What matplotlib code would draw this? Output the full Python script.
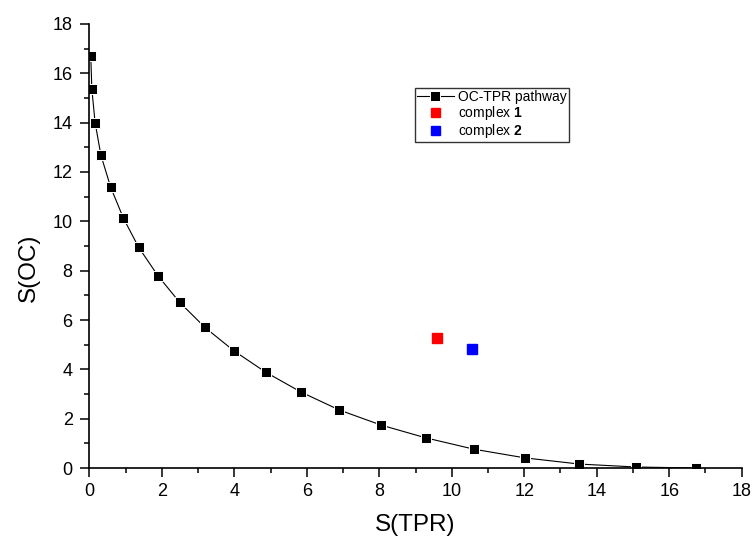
import matplotlib
matplotlib.use("Agg")
import matplotlib.pyplot as plt
from matplotlib.ticker import MultipleLocator

plt.rcParams['font.family'] = ['Liberation Sans', 'DejaVu Sans']
plt.rcParams['mathtext.fontset'] = 'custom'
plt.rcParams['mathtext.rm'] = 'Liberation Sans'
plt.rcParams['mathtext.bf'] = 'Liberation Sans:bold'

# OC-TPR interconversion path
s_tpr = [0.04, 0.07, 0.16, 0.32, 0.59, 0.94, 1.36, 1.89, 2.49, 3.19, 3.98,
         4.87, 5.84, 6.90, 8.05, 9.29, 10.62, 12.02, 13.52, 15.09, 16.73]
s_oc = [16.71, 15.35, 14.00, 12.68, 11.38, 10.13, 8.95, 7.80, 6.72, 5.70, 4.76,
        3.88, 3.08, 2.35, 1.74, 1.22, 0.76, 0.41, 0.16, 0.04, 0.00]

# the two complexes
c1_tpr, c1_oc = 9.60, 5.28
c2_tpr, c2_oc = 10.57, 4.82

fig = plt.figure(figsize=(7.55, 5.38), dpi=100)
ax = fig.add_axes([0.1183, 0.1301, 0.8641, 0.8253])

ax.plot(s_tpr, s_oc, color='black', lw=0.8, marker='s', ms=7.8,
        mfc='black', mec='white', mew=0.7, label='OC-TPR pathway')
ax.plot([c1_tpr], [c1_oc], ls='none', marker='s', ms=7.2, color='red',
        mec='red', label=r'complex $\mathbf{1}$')
ax.plot([c2_tpr], [c2_oc], ls='none', marker='s', ms=7.2, color='blue',
        mec='blue', label=r'complex $\mathbf{2}$')

ax.set_xlim(0, 18)
ax.set_ylim(0, 18)
ax.xaxis.set_major_locator(MultipleLocator(2))
ax.xaxis.set_minor_locator(MultipleLocator(1))
ax.yaxis.set_major_locator(MultipleLocator(2))
ax.yaxis.set_minor_locator(MultipleLocator(1))

for side in ['top', 'right']:
    ax.spines[side].set_visible(False)
for side in ['left', 'bottom']:
    ax.spines[side].set_linewidth(1.2)

ax.tick_params(which='major', direction='out', length=6.5, width=1.1,
               labelsize=13)
ax.tick_params(axis='x', which='major', pad=4.5)
ax.tick_params(axis='y', which='major', pad=5.5)
ax.tick_params(which='minor', direction='out', length=3.5, width=1.1)

ax.set_xlabel('S(TPR)', fontsize=17.5)
ax.set_ylabel('S(OC)', fontsize=17.5)
ax.xaxis.set_label_coords(0.5, -0.103)
ax.yaxis.set_label_coords(-0.076, 0.45)

leg = ax.legend(loc='upper left', bbox_to_anchor=(0.499, 0.856),
                borderaxespad=0, fontsize=10, frameon=True, fancybox=False,
                handlelength=2.7, handletextpad=0.3, labelspacing=0.02,
                borderpad=0.12, markerscale=0.9)
leg.get_frame().set_edgecolor('black')
leg.get_frame().set_linewidth(1.0)

fig.savefig('out.png', dpi=100)
